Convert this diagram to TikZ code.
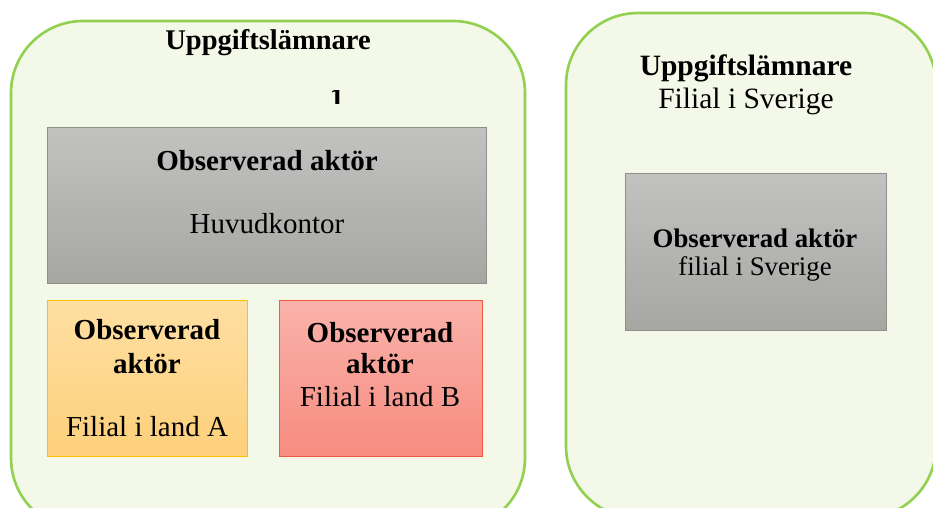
\documentclass[tikz,border=0pt]{standalone}
\usepackage{fontspec}
\setmainfont{Liberation Serif}
\definecolor{outerfill}{HTML}{F3F8E8}
\definecolor{outerline}{HTML}{92D050}
\definecolor{graytop}{HTML}{C2C2C1}
\definecolor{graybot}{HTML}{A6A6A3}
\definecolor{grayline}{HTML}{8E8E8B}
\definecolor{orangetop}{HTML}{FEDFA2}
\definecolor{orangebot}{HTML}{FDD07B}
\definecolor{orangeline}{HTML}{FFC000}
\definecolor{redtop}{HTML}{F9B2AA}
\definecolor{redbot}{HTML}{F78C80}
\definecolor{redline}{HTML}{F05A40}
\begin{document}
\begin{tikzpicture}[x=1pt,y=-1pt,
  outerbox/.style={draw=outerline,line width=2.6pt,fill=outerfill,rounded corners=72pt},
  graybox/.style={draw=grayline,line width=1pt,top color=graytop,bottom color=graybot,anchor=north west,inner sep=0pt},
  orangebox/.style={draw=orangeline,line width=1pt,top color=orangetop,bottom color=orangebot,anchor=north west,inner sep=0pt},
  redbox/.style={draw=redline,line width=1pt,top color=redtop,bottom color=redbot,anchor=north west,inner sep=0pt},
  ltitle/.style={font=\fontsize{28.5}{33}\selectfont\bfseries,inner sep=0pt},
  lbold/.style={font=\fontsize{29}{33}\selectfont\bfseries,inner sep=0pt},
  lreg/.style={font=\fontsize{29}{33}\selectfont,inner sep=0pt},
  rtitle/.style={font=\fontsize{29.5}{33}\selectfont\bfseries,inner sep=0pt},
  rsub/.style={font=\fontsize{29.5}{33}\selectfont,inner sep=0pt},
  rbold/.style={font=\fontsize{26.8}{31}\selectfont\bfseries,inner sep=0pt},
  rreg/.style={font=\fontsize{26.8}{31}\selectfont,inner sep=0pt}]
\useasboundingbox (0,0) rectangle (933,507);
\begin{scope}
\clip (0,0) rectangle (933,507);
% outer boxes
\draw[outerbox] (11,21) rectangle (525,530);
\draw[outerbox] (566,13) rectangle (936,518);
\end{scope}
% left title
\node[ltitle] (lt) at (268,43) {Uppgiftslämnare};
% stray mark
\begin{scope}
\clip (320,90) rectangle (360,103);
\node[ltitle,anchor=north] (stray) at (337,88) {1};
\end{scope}
% boxes
\node[graybox,minimum width=439pt,minimum height=156pt] (hq) at (47,127) {};
\node[orangebox,minimum width=200pt,minimum height=156pt] (fa) at (47,300) {};
\node[redbox,minimum width=203pt,minimum height=156pt] (fb) at (279,300) {};
\node[graybox,minimum width=261pt,minimum height=157pt] (se) at (625,173) {};
% texts left
\node[lbold] (hq1) at (267,161) {Observerad aktör};
\node[lreg] (hq2) at (267,224) {Huvudkontor};
\node[lbold] (fa1) at (147,330) {Observerad};
\node[lbold] (fa2) at (147,364) {aktör};
\node[lreg] (fa3) at (147,427) {Filial i land A};
\node[lbold] (fb1) at (380,333) {Observerad};
\node[lbold] (fb2) at (380,364) {aktör};
\node[lreg] (fb3) at (380,397) {Filial i land B};
% texts right
\node[rtitle] (rt) at (746,68) {Uppgiftslämnare};
\node[rsub] (rs) at (746,101) {Filial i Sverige};
\node[rbold] (se1) at (755,238) {Observerad aktör};
\node[rreg] (se2) at (755,269) {filial i Sverige};
\end{tikzpicture}
\end{document}
